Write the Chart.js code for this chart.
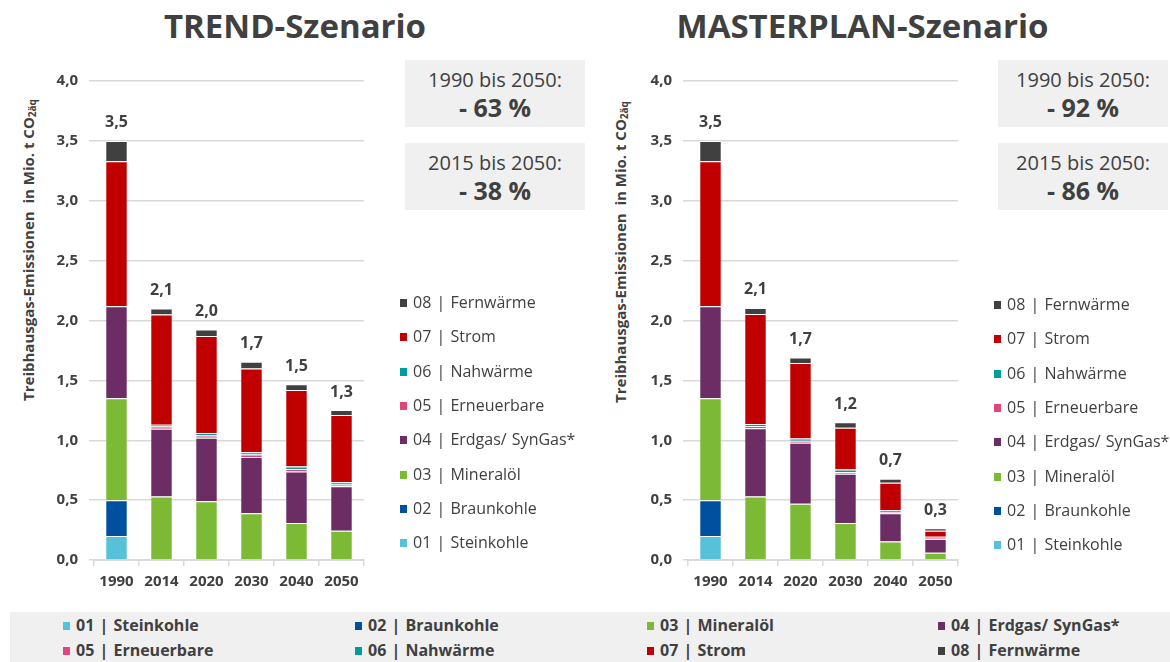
<!DOCTYPE html>
<html lang="de">
<head>
  <meta charset="UTF-8" />
  <title>Treibhausgas-Emissionen Szenarien</title>
  <script src="https://cdn.jsdelivr.net/npm/chart.js"></script>
  <style>
    body {
      margin: 0;
      width: 1170px;
      height: 662px;
      background: #fff;
      font-family: 'Open Sans', sans-serif;
      color: #404040;
      position: relative;
      overflow: hidden;
    }
    .title {
      position: absolute;
      top: 3px;
      font-size: 33px;
      font-weight: bold;
      text-align: center;
      color: #404040;
    }
    .ytitle {
      position: absolute;
      transform: translate(-50%, -50%) rotate(-90deg);
      white-space: nowrap;
      font-size: 15px;
      font-weight: bold;
    }
    .ytitle sub { font-size: 10px; vertical-align: -2px; }
    .box {
      position: absolute;
      background: #f0f0f0;
      text-align: center;
      height: 67px;
    }
    .box .a { font-size: 20px; line-height: 24px; margin-top: 8px; }
    .box .b { font-size: 25px; line-height: 30px; font-weight: bold; }
    .chartwrap { position: absolute; top: 55px; }
    .side {
      position: absolute;
      font-size: 16px;
      line-height: 20px;
      white-space: pre;
      word-spacing: 1px;
    }
    .side i {
      display: inline-block;
      width: 7px; height: 8px;
      margin-right: 6px;
      vertical-align: 1px;
    }
    .bottom {
      position: absolute;
      left: 10px; top: 612px;
      width: 1160px; height: 50px;
      background: #f0f0f0;
    }
    .item {
      position: absolute;
      font-size: 16px;
      line-height: 20px;
      font-weight: bold;
      white-space: pre;
      word-spacing: 1px;
    }
    .item i {
      display: inline-block;
      width: 7px; height: 8px;
      margin-right: 6px;
      vertical-align: 1px;
    }
  </style>
</head>
<body>

  <div class="title" style="left:110px;width:370px;">TREND-Szenario</div>
  <div class="title" style="left:660px;width:405px;">MASTERPLAN-Szenario</div>

  <div class="ytitle" style="left:28px;top:250px;">Treibhausgas-Emissionen&nbsp; in Mio. t CO<sub>2äq</sub></div>
  <div class="ytitle" style="left:620px;top:252px;">Treibhausgas-Emissionen&nbsp; in Mio. t CO<sub>2äq</sub></div>

  <div class="box" style="left:405px;top:60px;width:180px;"><div class="a">1990 bis 2050:</div><div class="b">- 63 %</div></div>
  <div class="box" style="left:405px;top:143px;width:180px;"><div class="a">2015 bis 2050:</div><div class="b">- 38 %</div></div>
  <div class="box" style="left:998px;top:60px;width:170px;"><div class="a">1990 bis 2050:</div><div class="b">- 92 %</div></div>
  <div class="box" style="left:998px;top:143px;width:170px;"><div class="a">2015 bis 2050:</div><div class="b">- 86 %</div></div>

  <div class="chartwrap" style="left:0px;"><canvas id="trendChart" width="590" height="545"></canvas></div>
  <div class="chartwrap" style="left:592px;"><canvas id="masterChart" width="578" height="545"></canvas></div>

  <div id="sideLegends"></div>
  <div class="bottom" id="bottomLegend"></div>

  <script>
    const years = ['1990', '2014', '2020', '2030', '2040', '2050'];
    const sectors = ['01 | Steinkohle', '02 | Braunkohle', '03 | Mineralöl', '04 | Erdgas/ SynGas*',
                     '05 | Erneuerbare', '06 | Nahwärme', '07 | Strom', '08 | Fernwärme'];
    const colors = ['#56c1d9', '#0050a0', '#7cba35', '#6b2d63', '#e0457b', '#009b9b', '#c00000', '#404040'];

    // TREND-Szenario, Mio. t CO2äq
    const trendSteinkohle  = [0.20, 0, 0, 0, 0, 0];
    const trendBraunkohle  = [0.30, 0, 0, 0, 0, 0];
    const trendMineraloel  = [0.85, 0.53, 0.49, 0.39, 0.31, 0.245];
    const trendErdgas      = [0.77, 0.565, 0.53, 0.47, 0.43, 0.37];
    const trendErneuerbare = [0, 0.02, 0.02, 0.02, 0.02, 0.015];
    const trendNahwaerme   = [0, 0.015, 0.02, 0.02, 0.02, 0.02];
    const trendStrom       = [1.21, 0.92, 0.81, 0.70, 0.64, 0.56];
    const trendFernwaerme  = [0.17, 0.05, 0.055, 0.056, 0.047, 0.042];
    const trendTotals      = ['3,5', '2,1', '2,0', '1,7', '1,5', '1,3'];

    // MASTERPLAN-Szenario
    const masterSteinkohle  = [0.20, 0, 0, 0, 0, 0];
    const masterBraunkohle  = [0.30, 0, 0, 0, 0, 0];
    const masterMineraloel  = [0.85, 0.53, 0.47, 0.31, 0.155, 0.06];
    const masterErdgas      = [0.77, 0.57, 0.51, 0.41, 0.235, 0.115];
    const masterErneuerbare = [0, 0.02, 0.015, 0.015, 0.01, 0.01];
    const masterNahwaerme   = [0, 0.015, 0.02, 0.02, 0.015, 0.01];
    const masterStrom       = [1.21, 0.92, 0.63, 0.35, 0.23, 0.05];
    const masterFernwaerme  = [0.17, 0.05, 0.045, 0.045, 0.034, 0.02];
    const masterTotals      = ['3,5', '2,1', '1,7', '1,2', '0,7', '0,3'];

    const textColor = '#404040';
    const gridColor = '#d9d9d9';

    // total above each stack
    const totalsPlugin = {
      id: 'totals',
      afterDatasetsDraw(chart, args, opts) {
        const ctx = chart.ctx;
        const yScale = chart.scales.y;
        const lastMeta = chart.getDatasetMeta(chart.data.datasets.length - 1);
        ctx.save();
        ctx.font = 'bold 16px "Open Sans"';
        ctx.fillStyle = textColor;
        ctx.textAlign = 'center';
        ctx.textBaseline = 'middle';
        chart.data.labels.forEach((lbl, i) => {
          let sum = 0;
          chart.data.datasets.forEach(ds => sum += ds.data[i]);
          const y = yScale.getPixelForValue(sum);
          ctx.fillText(opts.labels[i], lastMeta.data[i].x, y - 18);
        });
        ctx.restore();
      }
    };

    function makeChart(id, series, totals, padLeft, padRight) {
      return new Chart(document.getElementById(id), {
        type: 'bar',
        data: {
          labels: years,
          datasets: series.map((d, k) => ({
            label: sectors[k],
            data: d,
            backgroundColor: colors[k],
            borderColor: '#ffffff',
            borderWidth: { top: 1, bottom: 0, left: 0, right: 0 },
            borderSkipped: false,
            barPercentage: 0.46,
            categoryPercentage: 1
          }))
        },
        options: {
          responsive: false,
          animation: false,
          devicePixelRatio: 1,
          layout: { padding: { left: padLeft, top: 26, right: padRight, bottom: 2 } },
          scales: {
            x: {
              stacked: true,
              grid: { drawOnChartArea: false, color: gridColor, tickLength: 6, lineWidth: 1.5 },
              border: { color: gridColor, width: 2 },
              ticks: { color: textColor, font: { family: 'Open Sans', size: 15, weight: 'bold' }, padding: 7 }
            },
            y: {
              stacked: true,
              min: 0, max: 4,
              afterFit: s => { s.width = 50; },
              ticks: {
                stepSize: 0.5,
                color: textColor,
                font: { family: 'Open Sans', size: 15, weight: 'bold' },
                padding: 11,
                callback: v => v.toFixed(1).replace('.', ',')
              },
              grid: { color: gridColor, lineWidth: 1.5, tickLength: 5 },
              border: { display: false }
            }
          },
          plugins: {
            legend: { display: false },
            tooltip: { enabled: false },
            totals: { labels: totals }
          }
        },
        plugins: [totalsPlugin]
      });
    }

    makeChart('trendChart',
      [trendSteinkohle, trendBraunkohle, trendMineraloel, trendErdgas,
       trendErneuerbare, trendNahwaerme, trendStrom, trendFernwaerme],
      trendTotals, 44, 226);
    makeChart('masterChart',
      [masterSteinkohle, masterBraunkohle, masterMineraloel, masterErdgas,
       masterErneuerbare, masterNahwaerme, masterStrom, masterFernwaerme],
      masterTotals, 46, 212);

    // side legends, top entry = 08
    const sideX = [400, 994];
    const sideY = [292, 294];
    const side = document.getElementById('sideLegends');
    sideX.forEach((x, c) => {
      for (let r = 0; r < sectors.length; r++) {
        const k = sectors.length - 1 - r;
        const el = document.createElement('div');
        el.className = 'side';
        el.style.left = x + 'px';
        el.style.top = (sideY[c] + r * 34.3) + 'px';
        el.innerHTML = '<i style="background:' + colors[k] + '"></i>' + sectors[k];
        side.appendChild(el);
      }
    });

    // bottom legend in 4 columns, 2 rows
    const colX = [53, 345, 637, 928];
    const rowY = [3, 28];
    const bottom = document.getElementById('bottomLegend');
    sectors.forEach((s, k) => {
      const el = document.createElement('div');
      el.className = 'item';
      el.style.left = colX[k % 4] + 'px';
      el.style.top = rowY[Math.floor(k / 4)] + 'px';
      el.innerHTML = '<i style="background:' + colors[k] + '"></i>' + s;
      bottom.appendChild(el);
    });
  </script>

</body>
</html>
